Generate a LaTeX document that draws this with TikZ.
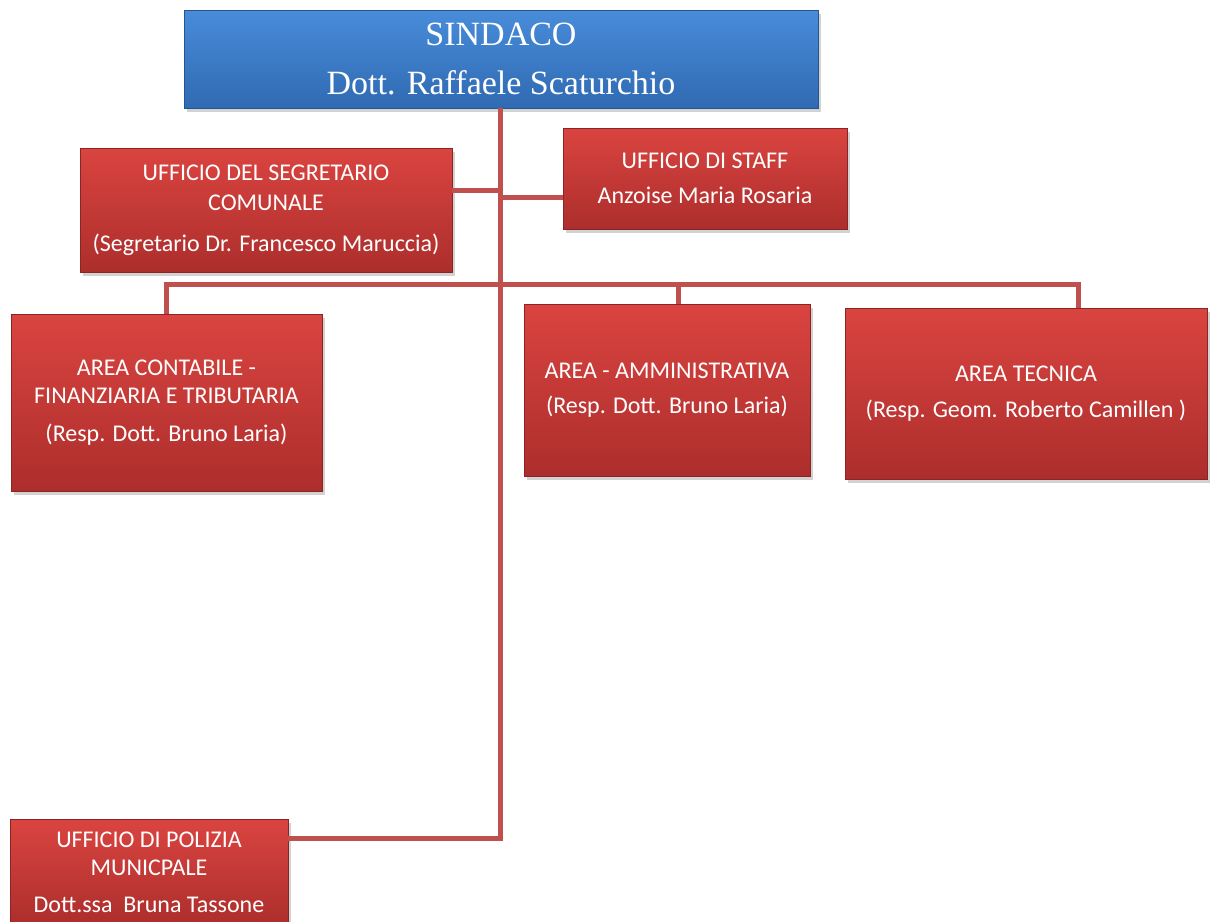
\documentclass[tikz,border=0pt]{standalone}
\usepackage{fontspec}
\setmainfont{Carlito}
\newfontfamily\titlefont{Liberation Serif}
\usetikzlibrary{shadows}
\definecolor{redtop}{RGB}{218,68,64}
\definecolor{redbot}{RGB}{172,46,44}
\definecolor{redline}{RGB}{192,80,77}
\definecolor{bluetop}{RGB}{72,140,218}
\definecolor{bluebot}{RGB}{48,106,178}
\tikzset{
  boxbase/.style={rectangle, inner sep=0pt, align=center, text=white,
    drop shadow={shadow xshift=2pt, shadow yshift=-3pt, opacity=0.35}},
  redbox/.style={boxbase, top color=redtop, bottom color=redbot, draw=redbot!80!black, line width=0.4pt,
    font=\fontsize{18pt}{21pt}\selectfont},
  bluebox/.style={boxbase, top color=bluetop, bottom color=bluebot, draw=bluebot!80!black, line width=0.4pt,
    font=\titlefont\fontsize{25.5pt}{36.5pt}\selectfont},
  conn/.style={draw=redline, line width=3.75pt, line cap=butt, line join=miter}
}
\begin{document}
\begin{tikzpicture}[x=0.75pt,y=-0.75pt]
\clip (0,0) rectangle (1216,921);
\fill[white] (0,0) rectangle (1216,921);
% nodes
\node[bluebox, minimum width=475.5pt, minimum height=73.5pt] (sindaco) at (501,59)
  {SINDACO\\Dott. Raffaele Scaturchio};
\node[redbox, minimum width=279pt, minimum height=93pt] (segr) at (266,210)
  {UFFICIO DEL SEGRETARIO\\[1.5pt]COMUNALE\\[10pt](Segretario Dr. Francesco Maruccia)};
\node[redbox, minimum width=213pt, minimum height=75.75pt] (staff) at (705,178.5)
  {UFFICIO DI STAFF\\[5pt]Anzoise Maria Rosaria};
\node[redbox, minimum width=233.25pt, minimum height=132.75pt] (contab) at (166.5,402.5)
  {AREA CONTABILE -\\FINANZIARIA E TRIBUTARIA\\[7pt](Resp. Dott. Bruno Laria)};
\node[redbox, minimum width=214.5pt, minimum height=129pt] (ammin) at (667,390)
  {AREA - AMMINISTRATIVA\\[5pt](Resp. Dott. Bruno Laria)};
\node[redbox, minimum width=271.5pt, minimum height=128.25pt] (tecnica) at (1026,393.5)
  {AREA TECNICA\\[6pt](Resp. Geom. Roberto Camillen )};
\node[redbox, minimum width=208.5pt, minimum height=79.5pt] (polizia) at (149,872)
  {UFFICIO DI POLIZIA\\MUNICPALE\\[7pt]Dott.ssa\ \ Bruna Tassone};
% connector coordinates
\coordinate (tb) at (500,838);
\coordinate (js) at (500,190);
\coordinate (jf) at (500,197);
\coordinate (busL) at (166,284);
\coordinate (busM) at (678,284);
\coordinate (busR) at (1078,284);
% connectors
\draw[conn] (sindaco.south -| tb) -- (tb) -- (polizia.east |- tb);
\draw[conn] (segr.east |- js) -- (js);
\draw[conn] (jf) -- (staff.west |- jf);
\draw[conn] (contab.north -| busL) -- (busL) -- (busR) -- (tecnica.north -| busR);
\draw[conn] (busM) -- (ammin.north -| busM);
\end{tikzpicture}
\end{document}
